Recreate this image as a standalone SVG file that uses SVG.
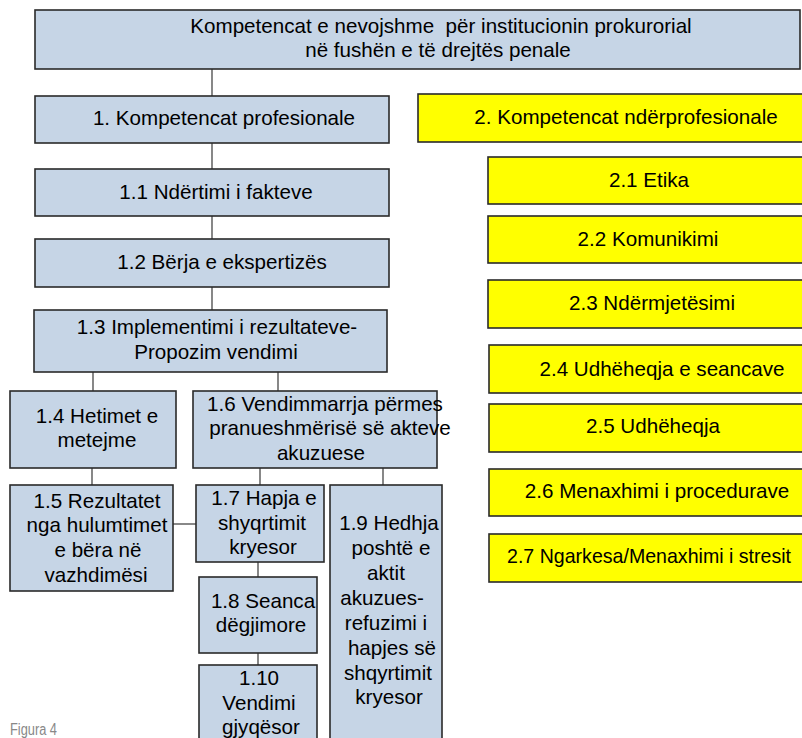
<svg xmlns="http://www.w3.org/2000/svg" width="802" height="738" viewBox="0 0 802 738">
<style>
.b{fill:#C6D5E6;stroke:#2a2a2a;stroke-width:1.6}
.y{fill:#FFFF00;stroke:#2a2a2a;stroke-width:1.6}
.c line{stroke:#555;stroke-width:1.4}
text{font-family:"Liberation Sans",Arial,sans-serif;font-size:20.6px;fill:#000;text-anchor:middle}
.fig{font-size:16px;fill:#888;text-anchor:start}
</style>
<rect width="802" height="738" fill="#fff"/>
<g class="c" id="connectors">
<line x1="212" y1="69" x2="212" y2="96"/>
<line x1="212" y1="143" x2="212" y2="169"/>
<line x1="212" y1="216" x2="212" y2="239"/>
<line x1="212" y1="287" x2="212" y2="310"/>
<line x1="93" y1="372" x2="93" y2="391"/>
<line x1="278" y1="372" x2="278" y2="391"/>
<line x1="92" y1="468" x2="92" y2="485"/>
<line x1="260" y1="468" x2="260" y2="485"/>
<line x1="383" y1="468" x2="383" y2="485"/>
<line x1="173" y1="524" x2="196" y2="524"/>
<line x1="258" y1="562" x2="258" y2="577"/>
<line x1="258" y1="653" x2="258" y2="665"/>
</g>
<g id="top"><rect class="b" x="35" y="10" width="765" height="59"/>
<text x="441" y="33" xml:space="preserve">Kompetencat e nevojshme  për institucionin prokurorial</text>
<text x="438" y="57">në fushën e të drejtës penale</text></g>
<g id="n1"><rect class="b" x="35" y="96" width="354" height="47"/><text x="224" y="125">1. Kompetencat profesionale</text></g>
<g id="n1-1"><rect class="b" x="35" y="169" width="354" height="47"/><text x="216" y="199">1.1 Ndërtimi i fakteve</text></g>
<g id="n1-2"><rect class="b" x="35" y="239" width="354" height="48"/><text x="222" y="269">1.2 Bërja e ekspertizës</text></g>
<g id="n1-3"><rect class="b" x="34" y="310" width="353" height="62"/><text x="217" y="334">1.3 Implementimi i rezultateve-</text><text x="216" y="359">Propozim vendimi</text></g>
<g id="n1-4"><rect class="b" x="10" y="391" width="166" height="77"/><text x="97" y="423">1.4 Hetimet e</text><text x="97" y="447">metejme</text></g>
<g id="n1-6"><rect class="b" x="193" y="391" width="244" height="77"/><text x="325" y="411">1.6 Vendimmarrja përmes</text><text x="330" y="435">pranueshmërisë së akteve</text><text x="321" y="460">akuzuese</text></g>
<g id="n1-5"><rect class="b" x="10" y="485" width="163" height="106"/><text x="97" y="508">1.5 Rezultatet</text><text x="97" y="532">nga hulumtimet</text><text x="98" y="557">e bëra në</text><text x="96" y="582">vazhdimësi</text></g>
<g id="n1-7"><rect class="b" x="196" y="485" width="128" height="77"/><text x="264" y="505">1.7 Hapja e</text><text x="262" y="530">shyqrtimit</text><text x="263" y="554">kryesor</text></g>
<g id="n1-8"><rect class="b" x="199" y="577" width="118" height="76"/><text x="263" y="608">1.8 Seanca</text><text x="261" y="632">dëgjimore</text></g>
<g id="n1-10"><rect class="b" x="199" y="665" width="118" height="90"/><text x="259" y="685">1.10</text><text x="259" y="710">Vendimi</text><text x="261" y="734">gjyqësor</text></g>
<g id="n1-9"><rect class="b" x="330" y="485" width="112" height="270"/><text x="389" y="530">1.9 Hedhja</text><text x="391" y="555">poshtë e</text><text x="386" y="580">aktit</text><text x="382" y="605">akuzues-</text><text x="386" y="630">refuzimi i</text><text x="392" y="655">hapjes së</text><text x="388" y="680">shqyrtimit</text><text x="389" y="704">kryesor</text></g>
<g id="n2"><rect class="y" x="418" y="94" width="400" height="48"/><text x="626" y="124">2. Kompetencat ndërprofesionale</text></g>
<g id="n2-1"><rect class="y" x="488" y="157" width="330" height="47"/><text x="649" y="187">2.1 Etika</text></g>
<g id="n2-2"><rect class="y" x="488" y="216" width="330" height="47"/><text x="648" y="246">2.2 Komunikimi</text></g>
<g id="n2-3"><rect class="y" x="488" y="280" width="330" height="48"/><text x="652" y="310">2.3 Ndërmjetësimi</text></g>
<g id="n2-4"><rect class="y" x="489" y="345" width="330" height="48"/><text x="662" y="376">2.4 Udhëheqja e seancave</text></g>
<g id="n2-5"><rect class="y" x="489" y="404" width="330" height="48"/><text x="653" y="433">2.5 Udhëheqja</text></g>
<g id="n2-6"><rect class="y" x="489" y="469" width="330" height="47"/><text x="657" y="498">2.6 Menaxhimi i procedurave</text></g>
<g id="n2-7"><rect class="y" x="489" y="534" width="330" height="48"/><text x="649" y="563" textLength="284" lengthAdjust="spacingAndGlyphs">2.7 Ngarkesa/Menaxhimi i stresit</text></g>
<text class="fig" x="10" y="735" textLength="47" lengthAdjust="spacingAndGlyphs">Figura 4</text>
</svg>
